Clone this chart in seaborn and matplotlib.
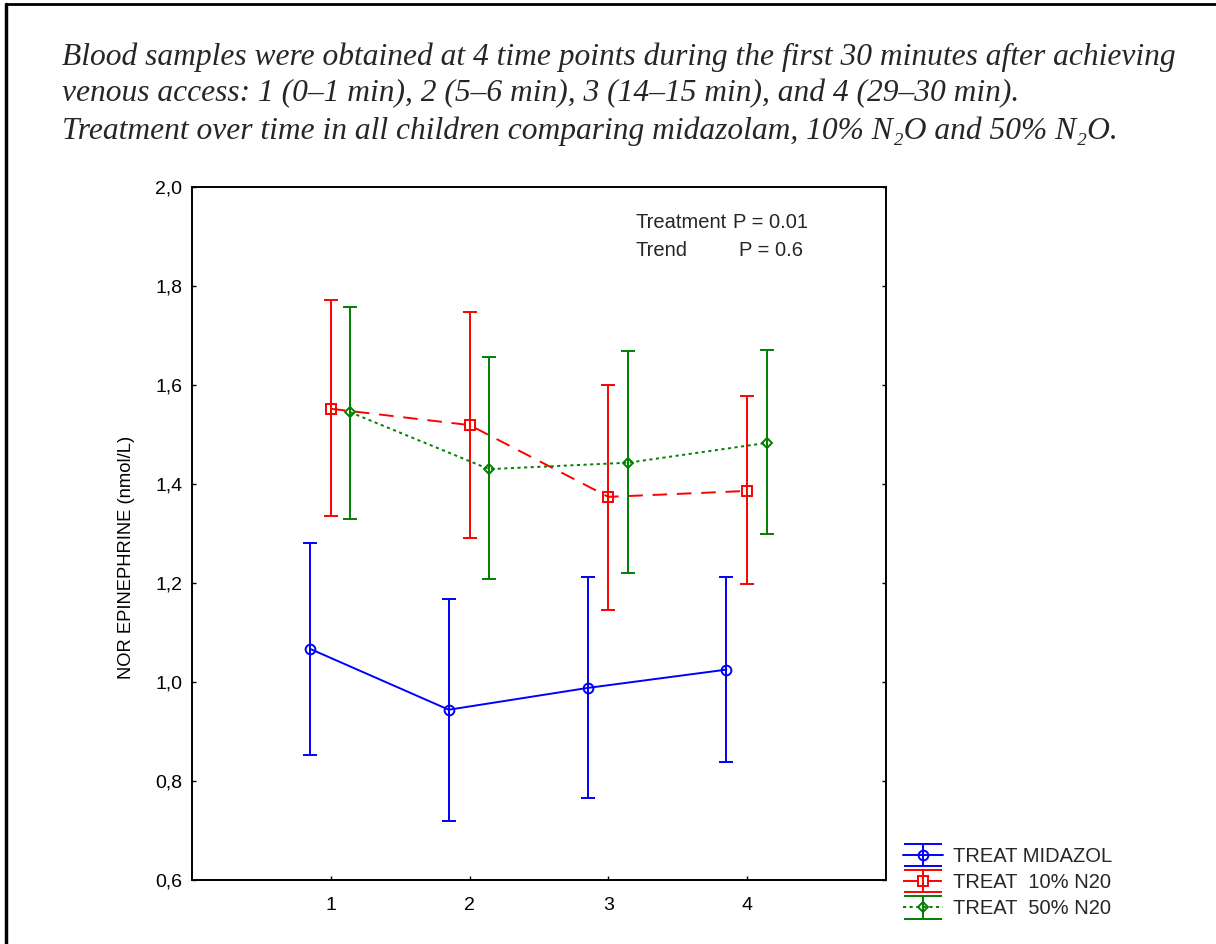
import numpy as np
import pandas as pd
import matplotlib
matplotlib.use("Agg")
import matplotlib.pyplot as plt
import seaborn as sns
from matplotlib.lines import Line2D
from matplotlib.legend_handler import HandlerErrorbar
from matplotlib.ticker import FuncFormatter

# ---------------- data ----------------
time_points = [1, 2, 3, 4]
series_names = ["TREAT MIDAZOL", "TREAT  10% N20", "TREAT  50% N20"]

midazol_mean = [1.067, 0.944, 0.988, 1.025]
midazol_low = [0.852, 0.720, 0.765, 0.838]
midazol_high = [1.280, 1.168, 1.212, 1.212]

n2o10_mean = [1.552, 1.519, 1.374, 1.386]
n2o10_low = [1.335, 1.290, 1.145, 1.198]
n2o10_high = [1.772, 1.747, 1.600, 1.578]

n2o50_mean = [1.545, 1.430, 1.443, 1.483]
n2o50_low = [1.330, 1.208, 1.220, 1.298]
n2o50_high = [1.758, 1.657, 1.668, 1.670]

caption_lines = [
    "Blood samples were obtained at 4 time points during the first 30 minutes after achieving",
    "venous access: 1 (0\u20131 min), 2 (5\u20136 min), 3 (14\u201315 min), and 4 (29\u201330 min).",
    "Treatment over time in all children comparing midazolam, 10% N\u2082O and 50% N\u2082O.",
]
y_label = "NOR EPINEPHRINE (nmol/L)"
annot_rows = [("Treatment", "P = 0.01"), ("Trend", "P = 0.6")]

# ---------------- style ----------------
sns.set_style("white")
plt.rcParams["font.family"] = ["Liberation Sans", "DejaVu Sans"]

W, H = 1216, 944
fig = plt.figure(figsize=(W / 100, H / 100), dpi=100)
ax = fig.add_axes([192 / W, 1 - 880 / H, 694 / W, 693 / H])

means = [midazol_mean, n2o10_mean, n2o50_mean]
lows = [midazol_low, n2o10_low, n2o50_low]
highs = [midazol_high, n2o10_high, n2o50_high]
colors = ["#0000FF", "#FF0000", "#008000"]
offsets = [-0.15, 0.0, 0.14]
linestyles = ["-", (0, (7.5, 5)), (0, (1.6, 1.8))]
markers = ["o", "s", "D"]
msizes = [7, 6.5, 5.5]
lw = 1.4

for name, m, lo, hi, c, off, ls, mk, ms in zip(series_names, means, lows, highs,
                                                colors, offsets, linestyles, markers, msizes):
    xs = np.array(time_points, dtype=float) + off
    df = pd.DataFrame({"x": xs, "y": m})
    sns.lineplot(data=df, x="x", y="y", ax=ax, color=c, linestyle=ls, linewidth=lw,
                 marker=mk, markersize=ms, markerfacecolor="none",
                 markeredgecolor=c, markeredgewidth=1.4, legend=False)
    m_arr = np.array(m)
    yerr = [m_arr - np.array(lo), np.array(hi) - m_arr]
    ax.errorbar(xs, m_arr, yerr=yerr, fmt="none", ecolor=c, elinewidth=lw,
                capsize=5, capthick=lw)

# legend proxies
proxies = []
for name, c, ls, mk, ms in zip(series_names, colors, linestyles, markers, msizes):
    h = ax.errorbar([np.nan], [np.nan], yerr=[[np.nan], [np.nan]], color=c,
                    linestyle=ls, linewidth=lw, marker=mk, markersize=ms,
                    markerfacecolor="none", markeredgecolor=c, markeredgewidth=1.4,
                    ecolor=c, elinewidth=lw, capsize=14, capthick=lw, label=name)
    proxies.append(h)

ax.set_xlim(0, 5)
ax.set_ylim(0.6, 2.0)
ax.set_xticks(time_points)
ax.set_xticklabels([str(t) for t in time_points])
ax.set_yticks(np.arange(0.6, 2.01, 0.2))
ax.yaxis.set_major_formatter(FuncFormatter(lambda v, p: f"{v:.1f}".replace(".", ",")))
ax.set_xlabel("")
ax.set_ylabel(y_label, fontsize=13.2, color="black")
ax.yaxis.set_label_coords(-0.0821, 0.466)
ax.tick_params(axis="both", direction="in", length=3, width=1, colors="black",
               labelsize=14)
ax.tick_params(axis="y", left=True, right=True, pad=7)
ax.tick_params(axis="x", bottom=True, top=False, pad=12)
for s in ax.spines.values():
    s.set_visible(True)
    s.set_color("black")
    s.set_linewidth(1.4)

# annotation
afs = 14.5
ax.text(636, H - 222, annot_rows[0][0], transform=None, fontsize=afs, va="center", ha="left")
ax.text(733, H - 222, annot_rows[0][1], transform=None, fontsize=afs, va="center", ha="left")
ax.text(636, H - 251, annot_rows[1][0], transform=None, fontsize=afs, va="center", ha="left")
ax.text(739, H - 251, annot_rows[1][1], transform=None, fontsize=afs, va="center", ha="left")

# legend
leg = fig.legend(handles=proxies, labels=series_names, loc="upper left",
                 bbox_to_anchor=(903 / W, 1 - 847 / H), frameon=False, fontsize=14.5,
                 handlelength=2.0, handletextpad=0.5, labelspacing=0.36, borderpad=0,
                 borderaxespad=0,
                 handler_map={type(proxies[0]): HandlerErrorbar(xerr_size=0.5, yerr_size=0.55)})

# caption
for i, line in enumerate(caption_lines):
    fig.text(62 / W, 1 - (57 + 37 * i) / H, line, fontsize=22.7, style="italic",
             family=["Liberation Serif", "DejaVu Serif"], va="center", ha="left")

# figure frame (top and left only)
fig.add_artist(Line2D([6 / W, 1], [1 - 4 / H, 1 - 4 / H], transform=fig.transFigure,
                      color="black", linewidth=2))
fig.add_artist(Line2D([6 / W, 6 / W], [0, 1 - 4 / H], transform=fig.transFigure,
                      color="black", linewidth=2.5))

fig.savefig("out.png", dpi=100, facecolor="white")
